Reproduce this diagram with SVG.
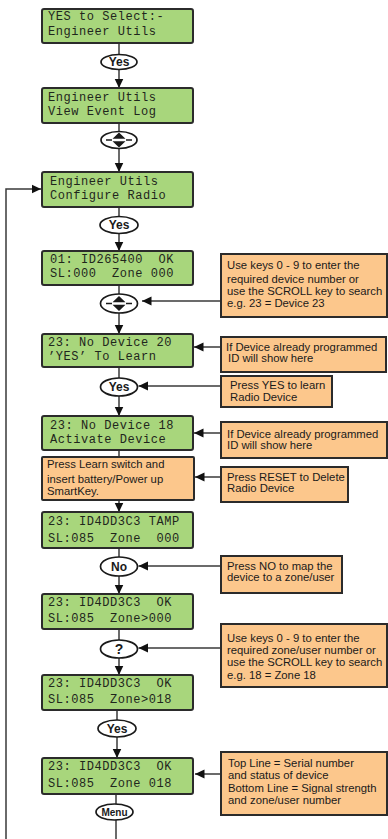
<svg xmlns="http://www.w3.org/2000/svg" width="388" height="839" viewBox="0 0 388 839">
<defs>
<style>
.lcd{fill:#a8d67c;stroke:#2b2b2b;stroke-width:2}
.lt{font-family:"Liberation Mono","DejaVu Sans Mono",monospace;font-size:12px;letter-spacing:0.55px;fill:#1f261c}
.step{fill:#fcc78c;stroke:#2b2b2b;stroke-width:2}
.nt{font-family:"Liberation Sans",Arial,sans-serif;font-size:11.3px;fill:#1a1a1a}
.ov{fill:#fff;stroke:#1a1a1a;stroke-width:1.7}
.ot{font-family:"Liberation Sans",Arial,sans-serif;font-weight:bold;font-size:12px;fill:#1a1a1a;text-anchor:middle}
.c{fill:none;stroke:#3a3a3a;stroke-width:1.5}
.ah{marker-end:url(#arr)}
</style>
<marker id="arr" viewBox="0 0 10 10" refX="9.5" refY="5" markerWidth="10" markerHeight="10" markerUnits="userSpaceOnUse" orient="auto">
<path d="M0,0.5 L9.5,5 L0,9.5 z" fill="#111"/>
</marker>
<g id="scroll-icon">
<path d="M-13,0 H-7 M7,0 H13" stroke="#1a1a1a" stroke-width="1.3"/>
<path d="M-6.5,-1.2 L6.5,-1.2 L0,-7.5 z M-6.5,1.2 L6.5,1.2 L0,7.5 z" fill="#1a1a1a"/>
</g>
</defs>

<g id="connectors">
<path class="c" d="M119,43 V54.5"/>
<path class="c ah" d="M119,69.5 V88"/>
<path class="c" d="M119,123 V131.5"/>
<path class="c ah" d="M119,148.5 V172"/>
<path class="c" d="M119,207 V216.5"/>
<path class="c ah" d="M119,233.5 V251"/>
<path class="c" d="M119,285 V294"/>
<path class="c ah" d="M119,313 V334"/>
<path class="c" d="M119,367 V378"/>
<path class="c ah" d="M119,396 V416"/>
<path class="c" d="M119,450 V457"/>
<path class="c ah" d="M119,500 V512"/>
<path class="c" d="M119,548 V557"/>
<path class="c ah" d="M119,576 V594"/>
<path class="c" d="M119,629 V640"/>
<path class="c ah" d="M119,658 V675"/>
<path class="c" d="M117,710 V720"/>
<path class="c ah" d="M117,737 V758"/>
<path class="c" d="M116,794 V804"/>
<path class="c" d="M116,820 V839"/>
<path class="c ah" d="M6,839 V189 H41"/>
<path class="c ah" d="M221,301 H142"/>
<path class="c ah" d="M221,347 H194"/>
<path class="c ah" d="M221,386 H138.5"/>
<path class="c ah" d="M221,433 H194"/>
<path class="c ah" d="M221,477 H195"/>
<path class="c ah" d="M221,566 H138.5"/>
<path class="c ah" d="M221,648 H138.5"/>
<path class="c ah" d="M221,774 H195"/>
</g>

<g id="lcd-select">
<rect class="lcd" x="42" y="9" width="151" height="34" rx="2"/>
<text class="lt" x="48" y="20">YES to Select:-</text>
<text class="lt" x="48" y="35">Engineer Utils</text>
</g>
<g id="key-yes-1">
<ellipse class="ov" cx="119" cy="62" rx="18" ry="7.5"/>
<text class="ot" x="119" y="66.3">Yes</text>
</g>
<g id="lcd-eventlog">
<rect class="lcd" x="42" y="88" width="151" height="35" rx="2"/>
<text class="lt" x="48" y="101">Engineer Utils</text>
<text class="lt" x="48" y="115">View Event Log</text>
</g>
<g id="key-scroll-1">
<ellipse class="ov" cx="119" cy="140" rx="18" ry="8.5"/>
<use href="#scroll-icon" x="119" y="140"/>
</g>
<g id="lcd-configradio">
<rect class="lcd" x="42" y="172" width="151" height="35" rx="2"/>
<text class="lt" x="50" y="185">Engineer Utils</text>
<text class="lt" x="50" y="199">Configure Radio</text>
</g>
<g id="key-yes-2">
<ellipse class="ov" cx="119" cy="225" rx="19" ry="8.5"/>
<text class="ot" x="119" y="229.3">Yes</text>
</g>
<g id="lcd-device01">
<rect class="lcd" x="42" y="251" width="151" height="34" rx="2"/>
<text class="lt" x="50" y="263" xml:space="preserve">01: ID265400  OK</text>
<text class="lt" x="50" y="277" xml:space="preserve">SL:000  Zone 000</text>
</g>
<g id="key-scroll-2">
<ellipse class="ov" cx="119" cy="303.5" rx="18.5" ry="9.5"/>
<use href="#scroll-icon" x="119" y="303.5"/>
</g>
<g id="lcd-nodevice20">
<rect class="lcd" x="42" y="334" width="151" height="33" rx="2"/>
<text class="lt" x="48" y="346">23: No Device 20</text>
<text class="lt" x="48" y="360">’YES’ To Learn</text>
</g>
<g id="key-yes-3">
<ellipse class="ov" cx="119" cy="387" rx="18.5" ry="9"/>
<text class="ot" x="119" y="391.3">Yes</text>
</g>
<g id="lcd-nodevice18">
<rect class="lcd" x="42" y="416" width="151" height="34" rx="2"/>
<text class="lt" x="50" y="429">23: No Device 18</text>
<text class="lt" x="50" y="443">Activate Device</text>
</g>
<g id="step-learn">
<rect class="step" x="42" y="457" width="152" height="43" rx="1"/>
<text class="nt" x="47" y="468">Press Learn switch and</text>
<text class="nt" x="47" y="483">insert battery/Power up</text>
<text class="nt" x="47" y="495">SmartKey.</text>
</g>
<g id="lcd-tamp">
<rect class="lcd" x="42" y="512" width="151" height="36" rx="2"/>
<text class="lt" x="48" y="525">23: ID4DD3C3 TAMP</text>
<text class="lt" x="48" y="542" xml:space="preserve">SL:085  Zone  000</text>
</g>
<g id="key-no">
<ellipse class="ov" cx="119" cy="566.5" rx="18.5" ry="9.5"/>
<text class="ot" x="119" y="570.8">No</text>
</g>
<g id="lcd-zone000">
<rect class="lcd" x="42" y="594" width="151" height="35" rx="2"/>
<text class="lt" x="48" y="606" xml:space="preserve">23: ID4DD3C3  OK</text>
<text class="lt" x="48" y="622" xml:space="preserve">SL:085  Zone&gt;000</text>
</g>
<g id="key-question">
<ellipse class="ov" cx="119" cy="649" rx="18.5" ry="9"/>
<text class="ot" x="119" y="654" style="font-size:14px">?</text>
</g>
<g id="lcd-zone018-edit">
<rect class="lcd" x="42" y="675" width="151" height="35" rx="2"/>
<text class="lt" x="48" y="687" xml:space="preserve">23: ID4DD3C3  OK</text>
<text class="lt" x="48" y="703" xml:space="preserve">SL:085  Zone&gt;018</text>
</g>
<g id="key-yes-4">
<ellipse class="ov" cx="117" cy="728.5" rx="19" ry="8.5"/>
<text class="ot" x="117" y="732.8">Yes</text>
</g>
<g id="lcd-zone018">
<rect class="lcd" x="42" y="758" width="151" height="36" rx="2"/>
<text class="lt" x="48" y="770" xml:space="preserve">23: ID4DD3C3  OK</text>
<text class="lt" x="48" y="787" xml:space="preserve">SL:085  Zone 018</text>
</g>
<g id="key-menu">
<ellipse class="ov" cx="114.5" cy="812" rx="18.5" ry="8"/>
<text class="ot" x="114.5" y="815.5" style="font-size:10px">Menu</text>
</g>

<g id="note-device-select">
<rect class="step" x="221" y="254" width="166" height="63"/>
<text class="nt" x="227" y="269">Use keys 0 - 9 to enter the</text>
<text class="nt" x="227" y="283">required device number or</text>
<text class="nt" x="227" y="295">use the SCROLL key to search</text>
<text class="nt" x="227" y="306.5">e.g. 23 = Device 23</text>
</g>
<g id="note-programmed-1">
<rect class="step" x="221" y="337" width="165" height="35"/>
<text class="nt" x="226" y="351">If Device already programmed</text>
<text class="nt" x="228" y="362">ID will show here</text>
</g>
<g id="note-press-yes">
<rect class="step" x="221" y="376" width="111" height="31"/>
<text class="nt" x="230" y="389">Press YES to learn</text>
<text class="nt" x="230" y="400.5">Radio Device</text>
</g>
<g id="note-programmed-2">
<rect class="step" x="221" y="422" width="166" height="36"/>
<text class="nt" x="227" y="438">If Device already programmed</text>
<text class="nt" x="227" y="449">ID will show here</text>
</g>
<g id="note-reset">
<rect class="step" x="221" y="467" width="127" height="35"/>
<text class="nt" x="227" y="481">Press RESET to Delete</text>
<text class="nt" x="227" y="492">Radio Device</text>
</g>
<g id="note-press-no">
<rect class="step" x="221" y="556" width="121" height="37"/>
<text class="nt" x="227" y="570">Press NO to map the</text>
<text class="nt" x="227" y="581">device to a zone/user</text>
</g>
<g id="note-zone-select">
<rect class="step" x="221" y="624" width="166" height="63"/>
<text class="nt" x="227" y="642">Use keys 0 - 9 to enter the</text>
<text class="nt" x="227" y="654">required zone/user number or</text>
<text class="nt" x="227" y="666">use the SCROLL key to search</text>
<text class="nt" x="227" y="679">e.g. 18 = Zone 18</text>
</g>
<g id="note-legend">
<rect class="step" x="221" y="752" width="166" height="63"/>
<text class="nt" x="228" y="767">Top Line = Serial number</text>
<text class="nt" x="228" y="779">and status of device</text>
<text class="nt" x="228" y="792">Bottom Line = Signal strength</text>
<text class="nt" x="228" y="804">and zone/user number</text>
</g>
</svg>
